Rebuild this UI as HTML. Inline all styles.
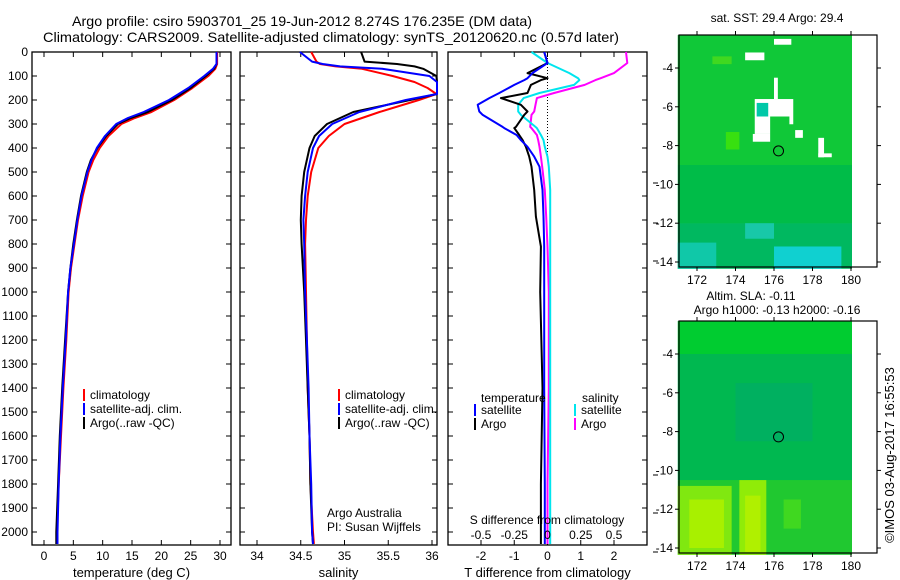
<!DOCTYPE html>
<html><head><meta charset="utf-8">
<style>
html,body{margin:0;padding:0;background:#fff;}
svg{display:block;font-family:"Liberation Sans",sans-serif;}
text{font-size:12px;fill:#000;}
</style></head>
<body>
<svg id="fig" width="900" height="580" viewBox="0 0 900 580" xmlns="http://www.w3.org/2000/svg">
<text x="72" y="26" textLength="460" lengthAdjust="spacingAndGlyphs" style="font-size:14px">Argo profile: csiro 5903701_25 19-Jun-2012 8.274S 176.235E (DM data)</text>
<text x="43" y="42" textLength="576" lengthAdjust="spacingAndGlyphs" style="font-size:14px">Climatology: CARS2009. Satellite-adjusted climatology: synTS_20120620.nc (0.57d later)</text>
<g id="maps"></g>
<g id="panels"></g>
<text transform="translate(894,455) rotate(-90)" text-anchor="middle" style="font-size:13px">©IMOS 03-Aug-2017 16:55:53</text>
</svg>
<script>
// ---------- data ----------
const depthT = [0,50,70,100,150,200,250,275,300,350,400,450,500,600,700,800,900,1000,1200,1400,1600,1800,2000,2050];
const tempSat = [29.4,29.4,28.8,27.3,24.6,21.3,17.0,14.3,12.3,10.4,9.0,8.1,7.4,6.4,5.7,5.1,4.5,4.1,3.7,3.2,2.8,2.5,2.3,2.3];
const tempClim = [29.5,29.5,29.2,28.0,25.3,22.2,18.3,15.5,13.2,11.0,9.5,8.4,7.6,6.6,5.8,5.2,4.6,4.2,3.8,3.3,2.9,2.5,2.2,2.2];
const tempArgo = [29.4,29.4,29.0,27.6,25.0,21.8,17.7,14.8,12.6,10.6,9.1,8.0,7.3,6.3,5.6,5.0,4.5,4.1,3.6,3.1,2.7,2.4,2.1,2.1];

const depthS = [0,40,50,60,70,100,125,150,175,200,250,300,350,400,500,600,700,800,1000,1200,1400,1600,1800,2000,2050];
const salSat = [34.49,34.63,34.75,34.95,35.43,35.97,36.07,36.07,36.06,35.70,35.17,34.86,34.71,34.64,34.58,34.55,34.53,34.54,34.55,34.57,34.59,34.60,34.62,34.63,34.64];
const salClim = [34.62,34.68,34.72,34.90,35.20,35.55,35.80,35.95,36.05,35.85,35.40,35.00,34.82,34.70,34.62,34.58,34.56,34.55,34.56,34.57,34.58,34.60,34.61,34.64,34.65];
const salArgo = [35.19,35.23,35.60,35.80,35.90,36.05,36.08,36.08,36.06,35.75,35.10,34.80,34.66,34.60,34.54,34.51,34.50,34.51,34.54,34.56,34.58,34.60,34.61,34.63,34.64];

const depthD = [0,46,88,109,117,137,171,192,220,248,262,312,317,346,367,395,436,478,575,686,811,1000,1400,1800,2050];
const dTSat = [-0.1,0.0,-0.45,-0.6,-0.7,-1.0,-1.45,-1.75,-2.1,-2.05,-1.95,-1.35,-1.3,-0.93,-0.8,-0.6,-0.4,-0.24,-0.15,-0.12,-0.1,-0.1,-0.1,-0.08,-0.08];
const dTArgo = [-0.1,0.0,-0.6,0.0,-0.2,-0.5,-0.6,-1.4,-0.8,-0.6,-0.7,-0.95,-1.0,-0.85,-0.75,-0.65,-0.55,-0.48,-0.4,-0.35,-0.2,-0.22,-0.15,-0.2,-0.2];
const dSSat = [-0.12,0.0,0.165,0.23,0.24,0.20,-0.06,-0.18,-0.22,-0.22,-0.2,-0.09,-0.08,-0.05,-0.03,-0.02,0.0,0.01,0.02,0.02,0.02,0.02,0.02,0.02,0.02];
const dSArgo = [0.59,0.6,0.5,0.4,0.36,0.28,0.05,-0.08,-0.09,-0.1,-0.12,-0.13,-0.12,-0.08,-0.07,-0.06,-0.05,-0.04,-0.02,-0.01,0.0,0.01,0.01,0.0,0.0];

const depthTicks = [0,100,200,300,400,500,600,700,800,900,1000,1100,1200,1300,1400,1500,1600,1700,1800,1900,2000];
const tempTicks = [0,5,10,15,20,25,30];
const salTicks = [34,34.5,35,35.5,36];
const salTickLabels = ["34","34.5","35","35.5","36"];
const dTTicks = [-2,-1,0,1,2];
const dSTicks = [-0.5,-0.25,0,0.25,0.5];
const dSTickLabels = ["-0.5","-0.25","0","0.25","0.5"];
const lonTicks = [172,174,176,178,180];
const latTicks = [-4,-6,-8,-10,-12,-14];

// ---------- helpers ----------
const NS = "http://www.w3.org/2000/svg";
function mk(tag, attrs, parent){
  const e = document.createElementNS(NS, tag);
  for (const k in attrs) e.setAttribute(k, attrs[k]);
  parent.appendChild(e); return e;
}
const TOP = 52, BOT = 545;
const yD = d => TOP + d * 0.24;
const panelsG = document.getElementById('panels');

function linScale(d0,d1,r0,r1){ return v => r0 + (v-d0)*(r1-r0)/(d1-d0); }

function drawPanel(id, x0, x1, xs, ticks, tickLabels, title){
  const g = mk('g', {}, panelsG);
  
  
  const fr = mk('rect', {x:x0, y:TOP, width:x1-x0, height:BOT-TOP, fill:'none', stroke:'#000', 'stroke-width':1.3}, g);
  
  
  depthTicks.forEach(d => {
    mk('line', {x1:x0, x2:x0+5, y1:yD(d), y2:yD(d), stroke:'#000'}, g);
    mk('line', {x1:x1-5, x2:x1, y1:yD(d), y2:yD(d), stroke:'#000'}, g);
  });
  ticks.forEach((t,i) => {
    const x = xs(t);
    mk('line', {x1:x, x2:x, y1:BOT, y2:BOT-5, stroke:'#000'}, g);
    mk('line', {x1:x, x2:x, y1:TOP, y2:TOP+5, stroke:'#000'}, g);
    const tl = mk('text', {x:x, y:560, 'text-anchor':'middle'}, g);
    tl.textContent = tickLabels[i];
    
    
  });
  const tt = mk('text', {x:(x0+x1)/2, y:577, 'text-anchor':'middle', style:'font-size:13px'}, g);
  tt.textContent = title;
  
  
  return g;
}
function drawLine(g, xs, vals, depths, color, w, name, x0, x1){
  const pts = vals.map((v,i) => {
    let x = xs(v); x = Math.max(x0, Math.min(x1, x));
    return x.toFixed(1) + ',' + yD(depths[i]).toFixed(1);
  }).join(' ');
  const p = mk('polyline', {points:pts, fill:'none', stroke:color, 'stroke-width':w, 'stroke-linejoin':'round'}, g);
  
  
}
function legend(g, x, y, items, prefix){
  items.forEach((it,i) => {
    const yy = y + i*14;
    const b = mk('rect', {x:x, y:yy-9, width:2, height:12, fill:it[1]}, g);
    
    
    const t = mk('text', {x:x+7, y:yy+1}, g);
    t.textContent = it[0];
    
    
  });
}

// depth labels
depthTicks.forEach(d => {
  const t = mk('text', {x:28, y:yD(d)+4, 'text-anchor':'end'}, panelsG);
  t.textContent = d;
  
  
});

// Panel 1: temperature
const xT = linScale(0,30,44,220);
const g1 = drawPanel('temperature-panel', 32, 231, xT, tempTicks, tempTicks.map(String), 'temperature (deg C)');
drawLine(g1, xT, tempClim, depthT, '#ff0000', 2, 'temp-climatology-line', 32, 231);
drawLine(g1, xT, tempArgo, depthT, '#000000', 2, 'temp-argo-line', 32, 231);
drawLine(g1, xT, tempSat, depthT, '#0000ff', 2, 'temp-satellite-line', 32, 231);
legend(g1, 83, 398, [['climatology','#ff0000'],['satellite-adj. clim.','#0000ff'],['Argo(..raw -QC)','#000000']], 'temp');

// Panel 2: salinity
const xS = linScale(34,36,257,432);
const g2 = drawPanel('salinity-panel', 240, 437, xS, salTicks, salTickLabels, 'salinity');
drawLine(g2, xS, salClim, depthS, '#ff0000', 2, 'sal-climatology-line', 240, 437);
drawLine(g2, xS, salArgo, depthS, '#000000', 2, 'sal-argo-line', 240, 437);
drawLine(g2, xS, salSat, depthS, '#0000ff', 2, 'sal-satellite-line', 240, 437);
legend(g2, 338, 398, [['climatology','#ff0000'],['satellite-adj. clim.','#0000ff'],['Argo(..raw -QC)','#000000']], 'sal');
const aa = mk('text', {x:327, y:517}, g2); aa.textContent = 'Argo Australia';
 
const pi = mk('text', {x:327, y:531}, g2); pi.textContent = 'PI: Susan Wijffels';
 

// Panel 3: differences
const xDT = linScale(-2,2,481,614);
const xDS = linScale(-0.5,0.5,481,614);
const g3 = drawPanel('difference-panel', 448, 647, xDT, dTTicks, dTTicks.map(String), 'T difference from climatology');
const zl = mk('line', {x1:xDT(0), x2:xDT(0), y1:TOP, y2:yD(460), stroke:'#000', 'stroke-dasharray':'1,2'}, g3);
 
drawLine(g3, xDS, dSArgo, depthD, '#ff00ff', 2, 'sdiff-argo-line', 448, 647);
drawLine(g3, xDS, dSSat, depthD, '#00e5ee', 2, 'sdiff-satellite-line', 448, 647);
drawLine(g3, xDT, dTArgo, depthD, '#000000', 2, 'tdiff-argo-line', 448, 647);
drawLine(g3, xDT, dTSat, depthD, '#0000ff', 2, 'tdiff-satellite-line', 448, 647);
const lt = mk('text', {x:481, y:402}, g3); lt.textContent = 'temperature';
 
const ls = mk('text', {x:582, y:402}, g3); ls.textContent = 'salinity';
 
legend(g3, 474, 413, [['satellite','#0000ff'],['Argo','#000000']], 'tdiff');
legend(g3, 574, 413, [['satellite','#00e5ee'],['Argo','#ff00ff']], 'sdiff');
const st = mk('text', {x:547, y:524, 'text-anchor':'middle'}, g3); st.textContent = 'S difference from climatology';
 
dSTicks.forEach((t,i) => {
  const l = mk('text', {x:xDS(t), y:539, 'text-anchor':'middle'}, g3);
  l.textContent = dSTickLabels[i];
  
  
});
[183,223,261,475,513,552].forEach(y => mk('line', {x1:653, x2:658, y1:y, y2:y, stroke:'#000'}, panelsG));

// ---------- maps ----------
const mapsG = document.getElementById('maps');
function drawMap(id, top, title1, title2, patches, base){
  const L = 679, R = 877, H = 232, colR = 852;
  const lonX = linScale(172,180,697,851);
  const latY = linScale(-4,-14,top+33,top+227);
  const g = mk('g', {}, mapsG);
  
  
  const bg = mk('rect', {x:L, y:top, width:colR-L, height:H, fill:base}, g);
   
  patches.forEach(p => {
    const r = mk('rect', {x:lonX(p[0]), y:latY(p[1]), width:lonX(p[2])-lonX(p[0]), height:latY(p[3])-latY(p[1]), fill:p[4]}, g);
     
  });
  const fr = mk('rect', {x:L, y:top, width:R-L, height:H, fill:'none', stroke:'#000', 'stroke-width':1.2}, g);
   
  lonTicks.forEach(t => {
    const x = lonX(t);
    mk('line', {x1:x, x2:x, y1:top+H, y2:top+H+4, stroke:'#000'}, g);
    mk('line', {x1:x, x2:x, y1:top, y2:top-4, stroke:'#000'}, g);
    const l = mk('text', {x:x, y:top+H+17, 'text-anchor':'middle'}, g); l.textContent = t;
     
  });
  latTicks.forEach(t => {
    const y = latY(t);
    mk('line', {x1:L-4, x2:L, y1:y, y2:y, stroke:'#000'}, g);
    mk('line', {x1:R, x2:R+4, y1:y, y2:y, stroke:'#000'}, g);
    const l = mk('text', {x:L-6, y:y+4, 'text-anchor':'end'}, g); l.textContent = t;
     
  });
  const c = mk('circle', {cx:lonX(176.235), cy:latY(-8.274), r:5, fill:'none', stroke:'#000'}, g);
   
  const t1 = mk('text', {x:title2 ? 751 : 777, y:title2 ? top-21 : top-13, 'text-anchor':'middle'}, g); t1.textContent = title1;
   
  if (title2){
    const t2 = mk('text', {x:777, y:top-7, 'text-anchor':'middle'}, g); t2.textContent = title2;
     
  }
}
drawMap('sst-map', 35, 'sat. SST: 29.4  Argo: 29.4', null, [
  [171,-2.3,180.05,-9,'#10c838'],
  [171,-9,180.05,-12,'#00bc48'],
  [171,-12,180.05,-14.35,'#00b860'],
  [171,-13,173,-14.35,'#10c8a8'],
  [176,-13.2,179.5,-14.35,'#10d0d0'],
  [174.5,-12,176,-12.8,'#18c8a8'],
  [172.8,-3.4,173.8,-3.8,'#40d820'],
  [173.5,-7.3,174.2,-8.2,'#38e010'],
  [176,-2.5,176.9,-2.8,'#ffffff'],
  [174.5,-3.2,175.5,-3.6,'#ffffff'],
  [176,-4.5,176.2,-5.6,'#ffffff'],
  [175,-5.6,177,-6.5,'#ffffff'],
  [175,-6.5,175.8,-7.4,'#ffffff'],
  [176.8,-6.5,177,-6.9,'#ffffff'],
  [174.9,-7.4,175.8,-7.8,'#ffffff'],
  [177.1,-7.2,177.5,-7.6,'#ffffff'],
  [178.3,-7.6,178.6,-8.6,'#ffffff'],
  [178.3,-8.4,179,-8.6,'#ffffff'],
  [175.1,-5.8,175.7,-6.5,'#00c8a8']
], '#10c838');
drawMap('sla-map', 321, 'Altim. SLA: -0.11', 'Argo h1000: -0.13 h2000: -0.16', [
  [171,-2.3,180.05,-4,'#00cc30'],
  [171,-4,180.05,-10.5,'#00b850'],
  [174,-5.5,178,-8.5,'#00b060'],
  [171,-10.5,180.05,-14.35,'#20c830'],
  [171,-10.8,173.8,-14.35,'#80e810'],
  [171.6,-11.5,173.4,-14,'#a8f000'],
  [174.2,-10.5,175.6,-14.35,'#90ec08'],
  [174.5,-11.3,175.3,-14.2,'#b0f000'],
  [176.5,-11.5,177.4,-13,'#40d820']
], '#00c840');
</script>
</body></html>
